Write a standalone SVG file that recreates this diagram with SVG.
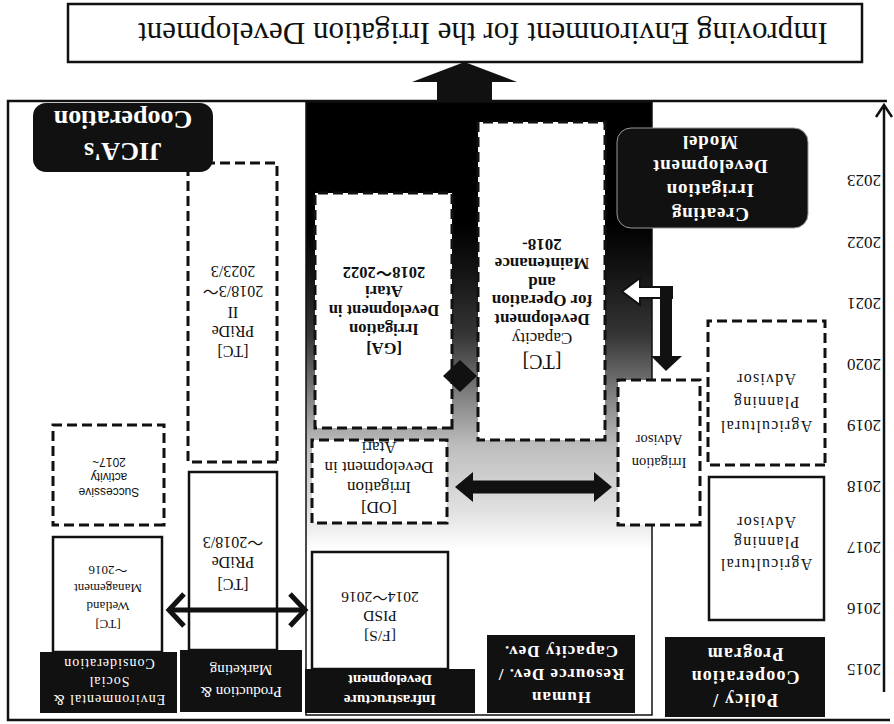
<svg xmlns="http://www.w3.org/2000/svg" width="894" height="724" viewBox="0 0 894 724">
<style>
.t{font-family:"Liberation Serif","Noto Sans CJK JP",serif;text-anchor:middle;fill:#111}
.b{font-weight:bold}
.w{fill:#fff}
.s{font-family:"Liberation Sans",Arial,sans-serif;text-anchor:middle;fill:#111}
.sb{fill:#fff;stroke:#111;stroke-width:2.5}
.db{fill:#fff;stroke:#111;stroke-width:3;stroke-dasharray:10 5}
.hd{fill:#111}
.ln{fill:none;stroke:#111;stroke-width:2.5}
</style>
<defs>
<linearGradient id="grad" x1="0" y1="0" x2="0" y2="1">
<stop offset="0" stop-color="#fff"/>
<stop offset="0.27" stop-color="#fff"/>
<stop offset="0.33" stop-color="#e2e2e2"/>
<stop offset="0.44" stop-color="#bdbdbd"/>
<stop offset="0.53" stop-color="#7a7a7a"/>
<stop offset="0.62" stop-color="#353535"/>
<stop offset="0.72" stop-color="#151515"/>
<stop offset="0.80" stop-color="#000"/>
<stop offset="1" stop-color="#000"/>
</linearGradient>
</defs>
<rect width="894" height="724" fill="#fff"/>
<g transform="rotate(180 447 362)">
<g id="frame">
<path class="ln" d="M4,4 H886 V623 H7"/>
<path class="ln" d="M10,32 V619"/>
<path class="ln" d="M2,607 L10,619 L18,607"/>
<rect x="242" y="9" width="346" height="613" fill="url(#grad)" stroke="#111" stroke-width="1.5"/>
</g>
<g id="years" class="t" font-size="17">
<text x="30" y="60">2015</text>
<text x="30" y="121">2016</text>
<text x="30" y="182">2017</text>
<text x="30" y="243">2018</text>
<text x="30" y="304">2019</text>
<text x="30" y="365">2020</text>
<text x="30" y="426">2021</text>
<text x="30" y="487">2022</text>
<text x="30" y="549">2023</text>
</g>
<g id="goal">
<rect class="sb" x="32" y="662" width="794" height="58"/>
<text class="t" x="411" y="701" font-size="31">Improving Environment for the Irrigation Development</text>
</g>
<g id="h-policy">
<rect class="hd" x="69" y="7" width="160" height="80"/>
<text class="t b w" font-size="18" letter-spacing="1.2"><tspan x="149" y="30">Policy /</tspan><tspan x="149" y="53">Cooperation</tspan><tspan x="149" y="76">Program</tspan></text>
</g>
<g id="h-human">
<rect class="hd" x="259" y="11" width="148" height="78"/>
<text class="t b w" font-size="17" letter-spacing="1"><tspan x="333" y="32">Human</tspan><tspan x="333" y="55">Resource Dev. /</tspan><tspan x="333" y="78">Capacity Dev.</tspan></text>
</g>
<g id="h-infra">
<rect class="hd" x="419" y="11" width="170" height="44"/>
<text class="t b w" font-size="15"><tspan x="504" y="29">Infrastructure</tspan><tspan x="504" y="49">Development</tspan></text>
</g>
<g id="h-prod">
<rect class="hd" x="592" y="12" width="122" height="62"/>
<text class="t w" font-size="15"><tspan x="653" y="37">Production &amp;</tspan><tspan x="653" y="59">Marketing</tspan></text>
</g>
<g id="h-env">
<rect class="hd" x="717" y="11" width="137" height="61"/>
<text class="t w" font-size="14" letter-spacing="1"><tspan x="785" y="29">Environmental &amp;</tspan><tspan x="785" y="47">Social</tspan><tspan x="785" y="65">Consideration</tspan></text>
</g>
<g id="agri1">
<rect class="sb" x="70" y="104" width="115" height="143"/>
<text class="t" font-size="16" letter-spacing="1.2"><tspan x="128" y="165">Agricultural</tspan><tspan x="128" y="187">Planning</tspan><tspan x="128" y="207">Advisor</tspan></text>
</g>
<g id="agri2">
<rect class="db" x="69" y="259" width="117" height="144"/>
<text class="t" font-size="16" letter-spacing="1.2"><tspan x="128" y="303">Agricultural</tspan><tspan x="128" y="327">Planning</tspan><tspan x="128" y="350">Advisor</tspan></text>
</g>
<g id="irr-adv">
<rect class="db" x="194" y="199" width="82" height="145"/>
<text class="t" font-size="14.5"><tspan x="235" y="266">Irrigation</tspan><tspan x="235" y="289">Advisor</tspan></text>
</g>
<g id="model">
<rect x="86" y="496" width="191" height="100" rx="14" fill="#111" stroke="#999" stroke-width="1"/>
<text class="t b w" font-size="19" letter-spacing="0.8"><tspan x="184" y="516">Creating</tspan><tspan x="184" y="540">Irrigation</tspan><tspan x="184" y="564">Development</tspan><tspan x="184" y="588">Model</tspan></text>
</g>
<g id="ct-om">
<rect class="db" x="289" y="284" width="127" height="318"/>
<text class="t" font-size="20" x="352" y="369">[TC]</text>
<text class="t" font-size="17" x="352" y="391">Capacity</text>
<text class="t b" font-size="17"><tspan x="352" y="410">Development</tspan><tspan x="352" y="429">for Operation</tspan><tspan x="352" y="447">and</tspan><tspan x="352" y="466">Maintenance</tspan><tspan x="352" y="485">2018-</tspan></text>
</g>
<g id="ga">
<rect class="db" x="442" y="296" width="137" height="235"/>
<text class="t b" font-size="16.5"><tspan x="510" y="381">[GA]</tspan><tspan x="510" y="400">Irrigation</tspan><tspan x="510" y="419">Development in</tspan><tspan x="510" y="438">Atari</tspan><tspan x="510" y="457">2018～2022</tspan></text>
</g>
<g id="od">
<rect class="db" x="447" y="201" width="135" height="83"/>
<text class="t" font-size="17"><tspan x="515" y="222">[OD]</tspan><tspan x="515" y="242">Irrigation</tspan><tspan x="515" y="262">Development in</tspan><tspan x="515" y="282">Atari</tspan></text>
</g>
<g id="fs">
<rect class="sb" x="446" y="55" width="136" height="117"/>
<text class="t" font-size="15.5"><tspan x="514" y="93">[F/S]</tspan><tspan x="514" y="113">PISD</tspan><tspan x="514" y="132">2014～2016</tspan></text>
</g>
<g id="pride1">
<rect class="sb" x="617" y="74" width="88" height="178"/>
<text class="t" font-size="16"><tspan x="661" y="145">[TC]</tspan><tspan x="661" y="167">PRiDe</tspan><tspan x="661" y="187">～2018/3</tspan></text>
</g>
<g id="pride2">
<rect class="db" x="617" y="262" width="89" height="299"/>
<text class="t" font-size="16"><tspan x="661" y="378">[TC]</tspan><tspan x="661" y="398">PRiDe</tspan><tspan x="661" y="417">II</tspan><tspan x="661" y="438">2018/3～</tspan><tspan x="661" y="458">2023/3</tspan></text>
</g>
<g id="wetland">
<rect class="sb" x="732" y="72" width="109" height="115"/>
<text class="t" font-size="13"><tspan x="786" y="104">[TC]</tspan><tspan x="786" y="122">Wetland</tspan><tspan x="786" y="140">Management</tspan><tspan x="786" y="158">～2016</tspan></text>
</g>
<g id="successive">
<rect class="db" x="730" y="199" width="111" height="100"/>
<text class="s" font-size="12"><tspan x="785" y="236">Successive</tspan><tspan x="785" y="251">activity</tspan><tspan x="785" y="266">2017~</tspan></text>
</g>
<g id="jica">
<rect x="681" y="552" width="180" height="69" rx="13" fill="#111"/>
<text class="t b w" font-size="26"><tspan x="771" y="581">JICA's</tspan><tspan x="771" y="613">Cooperation</tspan></text>
</g>
<g id="connectors">
<polygon points="402,622 457,622 457,642 482,642 429.5,662 377,642 402,642" fill="#111"/>
<polygon points="222,426 254,426 254,419 272,432.5 254,446 254,437 222,437" fill="#fff" stroke="#111" stroke-width="2"/>
<rect x="222" y="367" width="12" height="71" fill="#111"/>
<polygon points="212,368 243,368 228,353" fill="#111"/>
<polygon points="417,348 434,332 451,348 434,364" fill="#111"/>
<polygon points="282,237 300,222 300,230.5 421,230.5 421,222 439,237 421,252 421,243.5 300,243.5 300,252" fill="#111"/>
<path d="M592,114 H722" stroke="#111" stroke-width="5" fill="none"/>
<path d="M604,98 L589,114 L604,130 M710,98 L725,114 L710,130" stroke="#111" stroke-width="5" fill="none"/>
</g>
</g>
</svg>
